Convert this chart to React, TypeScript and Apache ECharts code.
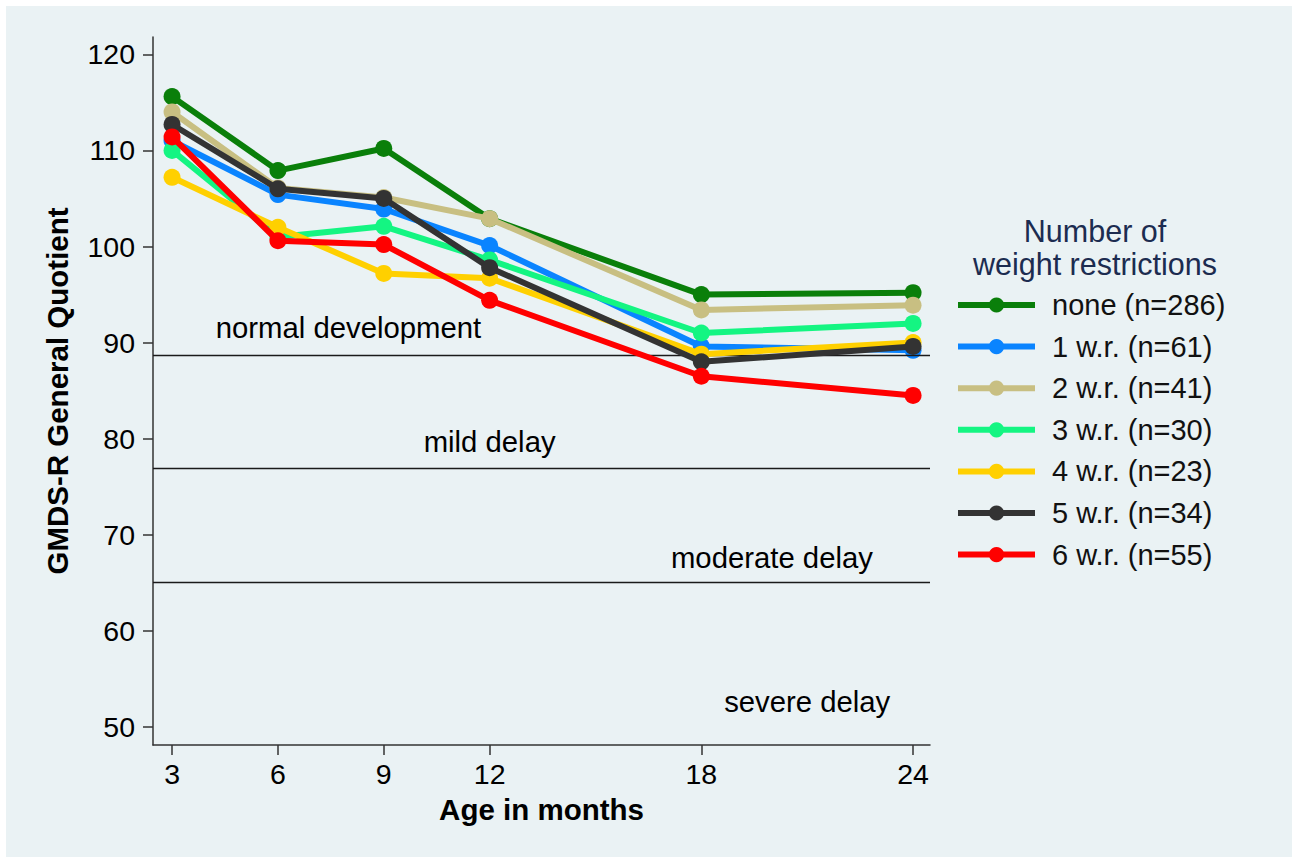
import React, { useEffect, useRef } from "react";
import * as echarts from "echarts";

const months = [3, 6, 9, 12, 18, 24];
const seriesNames = [
  "none (n=286)",
  "1 w.r. (n=61)",
  "2 w.r. (n=41)",
  "3 w.r. (n=30)",
  "4 w.r. (n=23)",
  "5 w.r. (n=34)",
  "6 w.r. (n=55)",
];
const noneVals = [115.6, 107.9, 110.2, 102.9, 95.0, 95.2];
const wr1Vals = [111.0, 105.4, 103.9, 100.1, 89.6, 89.2];
const wr2Vals = [114.0, 106.1, 105.1, 102.9, 93.4, 93.9];
const wr3Vals = [110.0, 101.0, 102.1, 98.6, 91.0, 92.0];
const wr4Vals = [107.2, 102.0, 97.2, 96.7, 88.8, 90.0];
const wr5Vals = [112.7, 106.0, 105.0, 97.8, 88.0, 89.6];
const wr6Vals = [111.4, 100.6, 100.2, 94.4, 86.5, 84.5];
const allVals = [noneVals, wr1Vals, wr2Vals, wr3Vals, wr4Vals, wr5Vals, wr6Vals];
const colors = ["#0a7f0a", "#0a84ff", "#c8bf82", "#14f582", "#ffd000", "#333333", "#ff0000"];

const yTicks = [50, 60, 70, 80, 90, 100, 110, 120];
const thresholds = [88.7, 76.9, 65.1];
const zoneLabels: [number, number, string][] = [
  [8.0, 91.6, "normal development"],
  [12.0, 79.7, "mild delay"],
  [20.0, 67.6, "moderate delay"],
  [21.0, 52.7, "severe delay"],
];

const FONT = "'Liberation Sans', Arial, Helvetica, sans-serif";

export default function App() {
  const ref = useRef<HTMLDivElement>(null);
  useEffect(() => {
    if (!ref.current) return;
    const chart = echarts.init(ref.current, null, { renderer: "svg" });
    const lineSeries = allVals.map((vals, i) => ({
      name: seriesNames[i],
      type: "line",
      data: months.map((m, j) => [m, vals[j]]),
      symbol: "circle",
      symbolSize: 17,
      lineStyle: { width: 6, color: colors[i] },
      itemStyle: { color: colors[i] },
      color: colors[i],
      z: 3 + i,
    }));
    chart.setOption({
      animation: false,
      backgroundColor: "transparent",
      textStyle: { fontFamily: FONT },
      grid: { left: 147, top: 31, right: 362, bottom: 112, containLabel: false },
      xAxis: {
        type: "value",
        min: 2.46,
        max: 24.48,
        name: "Age in months",
        nameLocation: "middle",
        nameGap: 49,
        nameTextStyle: { fontFamily: FONT, fontSize: 29.5, fontWeight: "bold", color: "#000" },
        axisLine: { show: true, lineStyle: { color: "#333", width: 1.5 } },
        axisTick: { show: true, length: 10, lineStyle: { color: "#333", width: 1.5 }, customValues: months },
        axisLabel: { fontFamily: FONT, fontSize: 28.5, color: "#000", margin: 14, customValues: months },
        splitLine: { show: false },
      },
      yAxis: {
        type: "value",
        min: 48.13,
        max: 121.8,
        name: "GMDS-R General Quotient",
        nameLocation: "middle",
        nameGap: 81,
        nameTextStyle: { fontFamily: FONT, fontSize: 29.5, fontWeight: "bold", color: "#000" },
        axisLine: { show: true, lineStyle: { color: "#333", width: 1.5 } },
        axisTick: { show: true, length: 10, lineStyle: { color: "#333", width: 1.5 }, customValues: yTicks },
        axisLabel: { fontFamily: FONT, fontSize: 28.5, color: "#000", margin: 18, customValues: yTicks },
        splitLine: { show: false },
      },
      legend: {
        data: seriesNames,
        orient: "vertical",
        left: 944,
        top: 279,
        itemWidth: 77,
        itemHeight: 19,
        itemGap: 11.6,
        lineStyle: { width: 6 },
        textStyle: { fontFamily: FONT, fontSize: 29, color: "#111", lineHeight: 30, padding: [0, 0, 0, 12] },
      },
      graphic: [
        {
          type: "text",
          x: 1089,
          y: 241,
          style: {
            text: "Number of\nweight restrictions",
            fontFamily: FONT,
            fontSize: 30.5,
            lineHeight: 33,
            fill: "#1c2c50",
            align: "center",
            verticalAlign: "middle",
          },
        },
      ],
      series: [
        {
          name: "zones",
          type: "scatter",
          data: zoneLabels.map((z) => [z[0], z[1], z[2]]),
          symbolSize: 1,
          itemStyle: { color: "rgba(0,0,0,0)" },
          silent: true,
          z: 1,
          label: {
            show: true,
            position: "inside",
            formatter: (p: any) => p.data[2],
            fontFamily: FONT,
            fontSize: 29.3,
            color: "#000",
            opacity: 1,
            textBorderWidth: 0,
          },
          markLine: {
            silent: true,
            symbol: ["none", "none"],
            label: { show: false },
            lineStyle: { color: "#1a1a1a", width: 1.3, type: "solid" },
            data: thresholds.map((t) => ({ yAxis: t })),
          },
        },
        ...lineSeries,
      ],
    });
    return () => chart.dispose();
  }, []);
  return (
    <div style={{ position: "absolute", left: 0, top: 0, width: 1298, height: 859, background: "#fff", padding: 6, boxSizing: "border-box" }}>
      <div ref={ref} style={{ width: 1286, height: 851, background: "#eaf2f4" }} />
    </div>
  );
}
